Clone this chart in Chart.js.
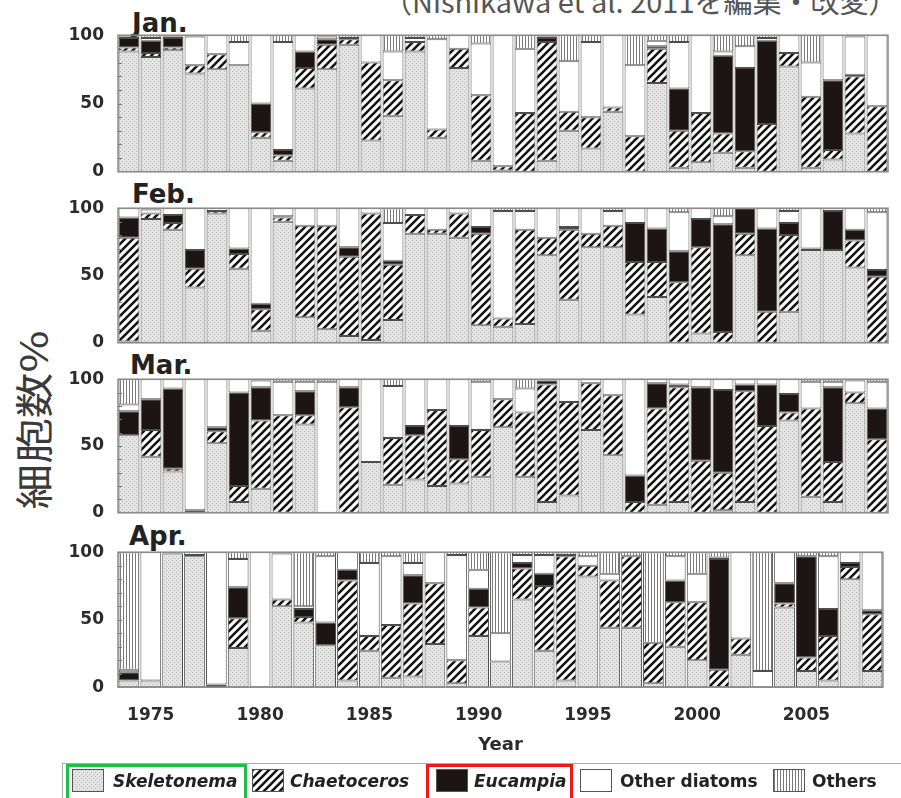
<!DOCTYPE html>
<html lang="ja">
<head>
<meta charset="utf-8">
<title>珪藻類の細胞数組成</title>
<script src="https://cdn.jsdelivr.net/npm/chart.js"></script>
<style>
  body { margin: 0; background: #fff; width: 901px; height: 798px; overflow: hidden; position: relative; font-family: "DejaVu Sans", sans-serif; }
  canvas.panel { position: absolute; left: 60px; }
  .month { position: absolute; font: bold 26px "DejaVu Sans"; color: #222; line-height: 26px; }
  #source { position: absolute; left: 383px; top: -15px; font: 29px "Noto Sans CJK JP"; color: #555; white-space: nowrap; line-height: 30px; }
  #ylabel { position: absolute; left: 31px; top: 420px; transform: translate(-50%, -50%) rotate(-90deg) scaleX(1.2); font: 38px "Noto Sans CJK JP"; color: #3a3a3a; white-space: nowrap; }
  #legendBox { position: absolute; left: 62px; top: 763px; width: 860px; height: 44px; border: 1px solid #aaa; }
  .sw { position: absolute; top: 769px; width: 32px; height: 23px; border: 1px solid #555; box-sizing: border-box; }
  .lt { position: absolute; top: 770px; font: bold 17px "DejaVu Sans"; color: #222; line-height: 22px; white-space: nowrap; }
  .lt.it { font-style: italic; }
  .mark { position: absolute; top: 764px; height: 40px; border: 3px solid; box-sizing: border-box; }
</style>
</head>
<body>
<div id="source">（Nishikawa et al. 2011を編集・改変）</div>
<div id="ylabel">細胞数%</div>

<div class="month" style="left:132px; top:10px;">Jan.</div>
<div class="month" style="left:132px; top:181px;">Feb.</div>
<div class="month" style="left:130px; top:352px;">Mar.</div>
<div class="month" style="left:129px; top:523px;">Apr.</div>

<canvas class="panel" id="janChart" width="830" height="185" style="top:10px;"></canvas>
<canvas class="panel" id="febChart" width="830" height="185" style="top:184px;"></canvas>
<canvas class="panel" id="marChart" width="830" height="185" style="top:355px;"></canvas>
<canvas class="panel" id="aprChart" width="830" height="230" style="top:528px;"></canvas>

<div id="legendBox"></div>
<canvas class="sw" id="sw0" width="30" height="21" style="left:72px;"></canvas>
<div class="lt it" style="left:113px;">Skeletonema</div>
<canvas class="sw" id="sw1" width="30" height="21" style="left:252px;"></canvas>
<div class="lt it" style="left:290px;">Chaetoceros</div>
<canvas class="sw" id="sw2" width="30" height="21" style="left:436px;"></canvas>
<div class="lt it" style="left:474px;">Eucampia</div>
<canvas class="sw" id="sw3" width="30" height="21" style="left:580px;"></canvas>
<div class="lt" style="left:620px;">Other diatoms</div>
<canvas class="sw" id="sw4" width="30" height="21" style="left:773px;"></canvas>
<div class="lt" style="left:812px;">Others</div>
<div class="mark" style="left:66px; width:181px; border-color:#1fbf45;"></div>
<div class="mark" style="left:426px; width:147px; border-color:#f01818;"></div>

<script>
// 年（横軸）
const years = ['1974','1975','1976','1977','1978','1979','1980','1981','1982','1983','1984','1985',
  '1986','1987','1988','1989','1990','1991','1992','1993','1994','1995','1996','1997','1998','1999',
  '2000','2001','2002','2003','2004','2005','2006','2007','2008'];
const tickYears = ['1975','1980','1985','1990','1995','2000','2005'];
const seriesNames = ['Skeletonema', 'Chaetoceros', 'Eucampia', 'Other diatoms', 'Others'];

// 1月
const janSkeletonema = [88,84,89,72,75,78,25,8,61,75,93,23,41,88,25,76,8,1,0,8,30,17,44,0,65,3,7,14,3,0,77,3,9,28,0];
const janChaetoceros = [3,3,2,6,11,0,4,4,15,18,4,57,26,7,6,14,48,3,43,87,14,23,3,26,25,27,36,14,12,35,10,52,7,42,48];
const janEucampia    = [7,9,7,0,0,0,21,4,12,4,0,0,0,0,0,0,0,0,0,3,0,0,0,0,2,31,0,57,61,61,0,0,51,1,0];
const janOtherDiatoms= [1,2,1,21,14,17,50,79,12,2,1,20,21,3,66,10,38,96,47,1,37,55,53,52,4,34,57,3,16,2,13,25,33,28,52];
const janOthers      = [1,2,1,1,0,5,0,5,0,1,2,0,12,2,3,0,6,0,10,1,19,5,0,22,4,5,0,12,8,2,0,20,0,1,0];

// 2月
const febSkeletonema = [1,92,84,41,96,55,9,90,19,10,5,2,17,81,81,78,13,12,14,65,32,71,71,21,34,0,7,0,65,0,23,69,69,56,0];
const febChaetoceros = [77,4,5,14,2,11,16,3,68,77,59,94,41,14,3,18,68,6,70,13,52,10,16,39,26,45,64,8,16,23,57,1,0,20,49];
const febEucampia    = [15,0,6,14,0,4,4,1,0,0,7,0,3,0,0,0,5,0,0,0,2,0,0,29,25,23,21,80,19,62,9,0,29,8,5];
const febOtherDiatoms= [7,3,5,31,2,30,71,6,13,13,29,4,28,5,16,4,14,80,14,22,14,19,11,11,15,29,8,6,0,15,9,30,2,16,43];
const febOthers      = [0,1,0,0,0,0,0,0,0,0,0,0,11,0,0,0,0,2,2,0,0,0,2,0,0,3,0,6,0,0,2,0,0,0,3];

// 3月
const marSkeletonema = [58,42,31,0,52,8,18,0,66,0,0,38,21,25,20,22,27,64,27,8,13,62,43,0,6,8,0,2,8,0,69,12,8,82,0];
const marChaetoceros = [0,20,2,0,9,12,51,73,7,0,79,0,35,33,57,18,35,21,48,88,70,35,45,8,72,86,39,28,83,65,6,66,30,8,55];
const marEucampia    = [18,23,60,2,3,70,25,0,18,0,15,0,0,7,0,25,0,0,0,3,0,0,0,20,19,2,55,62,5,31,14,0,56,0,23];
const marOtherDiatoms= [5,15,7,98,36,10,5,25,7,98,6,62,39,35,23,35,36,15,18,1,17,3,12,72,3,4,6,8,4,4,11,20,4,9,20];
const marOthers      = [19,0,0,0,0,0,1,2,2,2,0,0,5,0,0,0,2,0,7,0,0,0,0,0,0,0,0,0,0,0,0,2,2,1,2];

// 4月
const aprSkeletonema = [5,5,99,97,0,29,0,60,48,31,5,27,7,8,32,3,38,19,65,27,5,82,44,44,3,30,20,0,24,0,59,12,5,80,12];
const aprChaetoceros = [0,0,0,0,0,22,0,5,4,0,74,11,39,54,45,17,21,0,23,48,92,8,35,53,30,33,43,13,12,0,3,10,33,9,42];
const aprEucampia    = [6,0,1,1,2,23,0,0,6,17,8,0,0,21,0,0,14,0,4,9,0,0,0,0,0,16,0,82,0,0,15,75,20,3,3];
const aprOtherDiatoms= [2,95,0,2,98,21,100,34,2,49,13,54,51,9,23,78,14,21,6,14,1,7,5,0,0,18,21,1,64,12,23,0,39,8,43];
const aprOthers      = [87,0,0,0,0,5,0,1,40,3,0,8,3,8,0,2,13,60,2,2,2,3,16,3,67,3,16,4,0,88,0,3,3,0,0];

// 塗りパターン
function makeFill(kind) {
  const c = document.createElement('canvas');
  const g = c.getContext('2d');
  if (kind === 'dots') {
    c.width = 4; c.height = 4;
    g.fillStyle = '#e4e4e4'; g.fillRect(0, 0, 4, 4);
    g.fillStyle = '#b4b4b4'; g.fillRect(0, 0, 1, 1); g.fillRect(2, 2, 1, 1);
  } else if (kind === 'hatch') {
    c.width = 8; c.height = 8;
    g.fillStyle = '#fff'; g.fillRect(0, 0, 8, 8);
    g.strokeStyle = '#151515'; g.lineWidth = 2.6;
    g.beginPath();
    g.moveTo(-1, 9); g.lineTo(9, -1);
    g.moveTo(-5, 5); g.lineTo(5, -5);
    g.moveTo(3, 13); g.lineTo(13, 3);
    g.stroke();
  } else if (kind === 'vlines') {
    c.width = 3; c.height = 3;
    g.fillStyle = '#fff'; g.fillRect(0, 0, 3, 3);
    g.fillStyle = '#7a7a7a'; g.fillRect(0, 0, 1, 3);
  } else {
    c.width = 2; c.height = 2;
    g.fillStyle = kind; g.fillRect(0, 0, 2, 2);
  }
  return g.createPattern(c, 'repeat');
}

const fills = [makeFill('dots'), makeFill('hatch'), makeFill('#1d1414'), makeFill('#ffffff'), makeFill('vlines')];

// 凡例の見本
fills.forEach((f, i) => {
  const g = document.getElementById('sw' + i).getContext('2d');
  g.fillStyle = f; g.fillRect(0, 0, 30, 21);
});

// 枠線と内側の目盛
const framePlugin = {
  id: 'frame',
  afterDatasetsDraw(chart) {
    const a = chart.chartArea;
    const ctx = chart.ctx;
    const y = chart.scales.y;
    ctx.save();
    ctx.strokeStyle = '#777';
    ctx.lineWidth = 1;
    for (let v = 10; v < 100; v += 10) {
      const py = Math.round(y.getPixelForValue(v)) + 0.5;
      ctx.beginPath(); ctx.moveTo(a.left, py); ctx.lineTo(a.left + 4, py); ctx.stroke();
    }
    ctx.strokeStyle = '#8a8a8a';
    ctx.lineWidth = 1.5;
    ctx.strokeRect(a.left, a.top, a.right - a.left, a.bottom - a.top);
    ctx.restore();
  }
};

const tickFont = { family: 'DejaVu Sans', weight: 'bold', size: 17 };

function buildChart(id, monthData, showX) {
  return new Chart(document.getElementById(id), {
    type: 'bar',
    data: {
      labels: years,
      datasets: seriesNames.map((name, i) => ({
        label: name,
        data: monthData[i],
        backgroundColor: fills[i],
        borderColor: '#4d4d4d',
        borderWidth: 1,
        borderSkipped: false,
        barPercentage: 1,
        categoryPercentage: 0.95
      }))
    },
    options: {
      responsive: false,
      maintainAspectRatio: false,
      animation: false,
      layout: { padding: { top: 0, right: 2, bottom: 0, left: 0 } },
      plugins: { legend: { display: false }, tooltip: { enabled: false } },
      scales: {
        x: {
          stacked: true,
          display: showX,
          grid: { display: false, drawTicks: false },
          border: { display: false },
          ticks: {
            autoSkip: false,
            maxRotation: 0,
            padding: 18,
            color: '#2b2b2b',
            font: tickFont,
            callback(v) {
              const l = this.getLabelForValue(v);
              return tickYears.includes(l) ? l : '';
            }
          },
          title: {
            display: true,
            text: 'Year',
            color: '#2b2b2b',
            font: { family: 'DejaVu Sans', weight: 'bold', size: 18 },
            padding: { top: 8, bottom: 0 }
          }
        },
        y: {
          stacked: true,
          min: 0,
          max: 100,
          grid: { display: false, drawTicks: false },
          border: { display: false },
          afterFit(s) { s.width = 58; },
          ticks: { stepSize: 50, padding: 14, color: '#2b2b2b', font: tickFont }
        }
      }
    },
    plugins: [framePlugin]
  });
}

// 描画領域をページ上の位置に合わせる
function place(chart, areaTop, areaBottom, yearCenter) {
  for (let k = 0; k < 4; k++) {
    if (yearCenter) {
      const xs = chart.scales.x;
      const t = chart.options.scales.x.title;
      const actual = xs.bottom - 18 * 1.2 / 2 - chart.chartArea.bottom;
      const want = yearCenter - areaBottom;
      t.padding = { top: t.padding.top + (want - actual), bottom: 0 };
      chart.update();
    }
    const a = chart.chartArea;
    const h = Math.round(chart.height + (areaBottom - areaTop) - (a.bottom - a.top));
    if (h !== chart.height) chart.resize(chart.width, h);
  }
  chart.canvas.style.top = Math.round(areaTop - chart.chartArea.top) + 'px';
}

const jan = buildChart('janChart', [janSkeletonema, janChaetoceros, janEucampia, janOtherDiatoms, janOthers], false);
const feb = buildChart('febChart', [febSkeletonema, febChaetoceros, febEucampia, febOtherDiatoms, febOthers], false);
const mar = buildChart('marChart', [marSkeletonema, marChaetoceros, marEucampia, marOtherDiatoms, marOthers], false);
const apr = buildChart('aprChart', [aprSkeletonema, aprChaetoceros, aprEucampia, aprOtherDiatoms, aprOthers], true);

place(jan, 35, 172);
place(feb, 208, 343);
place(mar, 379, 513);
place(apr, 552, 687, 745);
</script>
</body>
</html>
